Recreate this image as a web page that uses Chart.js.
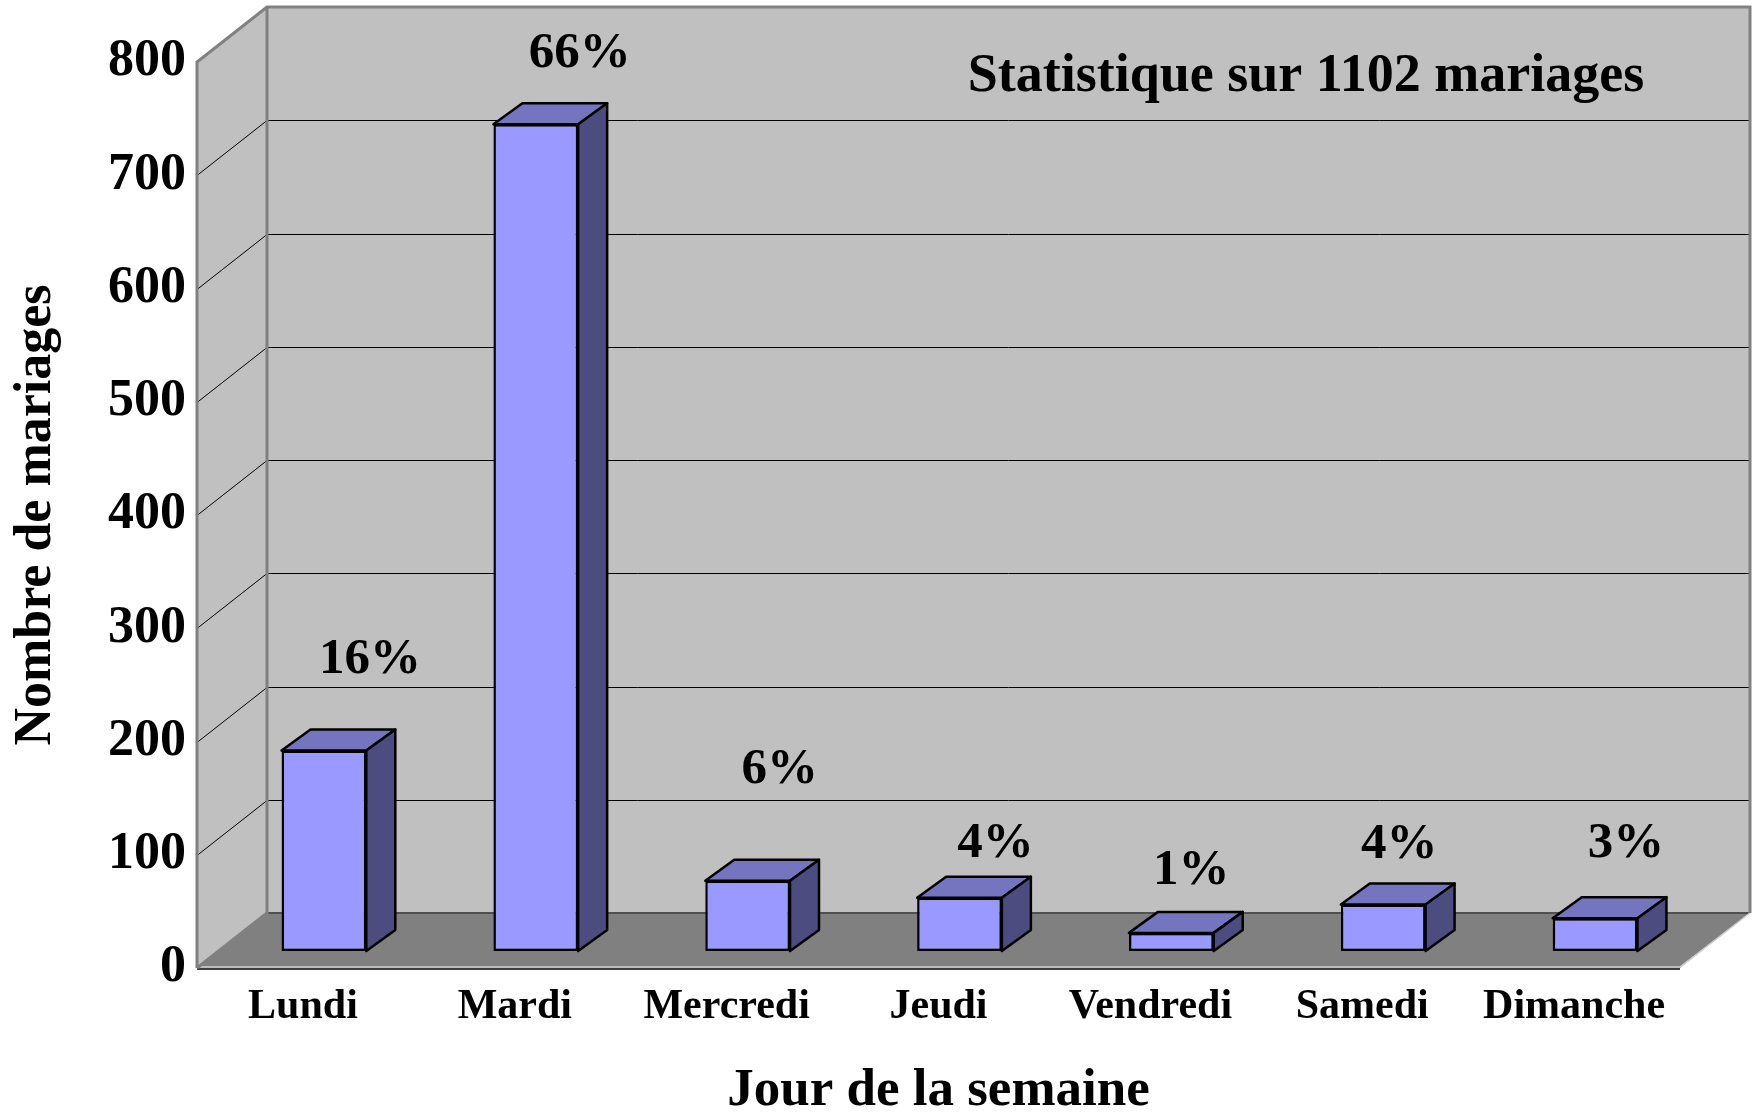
<!DOCTYPE html>
<html lang="fr">
<head>
<meta charset="utf-8">
<title>Jour de la semaine - mariages</title>
<script src="https://cdn.jsdelivr.net/npm/chart.js@4.4.1/dist/chart.umd.min.js"></script>
<style>
  html, body { margin: 0; padding: 0; background: #fff; }
  #graphe { display: block; }
</style>
</head>
<body>
<canvas id="graphe" width="1756" height="1112"></canvas>
<script>
// ------------------------------------------------------
// Données
// ------------------------------------------------------
const jours = ["Lundi", "Mardi", "Mercredi", "Jeudi", "Vendredi", "Samedi", "Dimanche"];
const mariages = [177, 730, 62, 47, 16, 41, 29];
const pourcentages = ["16%", "66%", "6%", "4%", "1%", "4%", "3%"];
const graduations = [0, 100, 200, 300, 400, 500, 600, 700, 800];
const titreGraphe = "Statistique sur 1102 mariages";

const POLICE = "'Liberation Serif', 'Times New Roman', serif";

/* =======================================================
   Plugin : murs, sol et faces 3D des barres
======================================================= */
const effet3D = {
  id: "effet3D",
  beforeDatasetsDraw(chart, args, opts) {
    const { ctx, chartArea: a, scales } = chart;
    const y = scales.y;
    const { dx, dy } = opts.profondeur;
    const y0 = y.getPixelForValue(0);
    const yMax = y.getPixelForValue(graduations[graduations.length - 1]);

    ctx.save();
    ctx.lineJoin = "miter";

    // mur du fond
    ctx.fillStyle = opts.couleurMur;
    ctx.beginPath();
    ctx.rect(a.left + dx, yMax + dy, a.right - a.left, y0 - yMax);
    ctx.fill();

    // mur de gauche
    ctx.beginPath();
    ctx.moveTo(a.left, y0);
    ctx.lineTo(a.left, yMax);
    ctx.lineTo(a.left + dx, yMax + dy);
    ctx.lineTo(a.left + dx, y0 + dy);
    ctx.closePath();
    ctx.fill();

    // sol
    ctx.fillStyle = opts.couleurSol;
    ctx.beginPath();
    ctx.moveTo(a.left, y0);
    ctx.lineTo(a.left + dx, y0 + dy);
    ctx.lineTo(a.right + dx, y0 + dy);
    ctx.lineTo(a.right, y0);
    ctx.closePath();
    ctx.fill();

    // quadrillage (mur du fond + mur de gauche)
    ctx.strokeStyle = "#000";
    ctx.lineWidth = 1;
    graduations.slice(1, -1).forEach((v) => {
      const py = Math.round(y.getPixelForValue(v)) + 0.5;
      ctx.beginPath();
      ctx.moveTo(a.left, py);
      ctx.lineTo(a.left + dx, py + dy);
      ctx.lineTo(a.right + dx, py + dy);
      ctx.stroke();
    });

    // jonction mur / sol
    ctx.strokeStyle = "#505050";
    ctx.lineWidth = 2;
    ctx.beginPath();
    ctx.moveTo(a.left + dx, y0 + dy);
    ctx.lineTo(a.right + dx, y0 + dy);
    ctx.stroke();

    // bords du sol
    ctx.strokeStyle = "#d0d0d0";
    ctx.lineWidth = 1.5;
    ctx.beginPath();
    ctx.moveTo(a.left, y0 - 1);
    ctx.lineTo(a.right, y0 - 1);
    ctx.lineTo(a.right + dx, y0 + dy);
    ctx.stroke();
    ctx.strokeStyle = "#404040";
    ctx.lineWidth = 2;
    ctx.beginPath();
    ctx.moveTo(a.left, y0 + 1);
    ctx.lineTo(a.right, y0 + 1);
    ctx.stroke();

    // contours gris des murs
    ctx.strokeStyle = opts.couleurCadre;
    ctx.lineWidth = 3;
    ctx.beginPath();
    ctx.moveTo(a.left, y0);
    ctx.lineTo(a.left, yMax);
    ctx.lineTo(a.left + dx, yMax + dy);
    ctx.lineTo(a.right + dx, yMax + dy);
    ctx.lineTo(a.right + dx, y0 + dy);
    ctx.moveTo(a.left + dx, yMax + dy);
    ctx.lineTo(a.left + dx, y0 + dy);
    ctx.lineTo(a.left, y0);
    ctx.stroke();
    ctx.restore();

    // les barres sont posées au milieu de la profondeur
    ctx.save();
    ctx.translate(opts.avant.dx, opts.avant.dy);
  },

  afterDatasetsDraw(chart, args, opts) {
    const { ctx } = chart;
    const { dx, dy } = opts.cube;
    const barres = chart.getDatasetMeta(0).data;

    ctx.lineWidth = 2.5;
    ctx.strokeStyle = "#000";
    ctx.lineJoin = "round";
    barres.forEach((b) => {
      const { x, y, base, width } = b.getProps(["x", "y", "base", "width"], true);
      const g = x - width / 2;
      const d = x + width / 2;

      // face du dessus
      ctx.fillStyle = opts.couleurDessus;
      ctx.beginPath();
      ctx.moveTo(g, y);
      ctx.lineTo(g + dx, y + dy);
      ctx.lineTo(d + dx, y + dy);
      ctx.lineTo(d, y);
      ctx.closePath();
      ctx.fill();
      ctx.stroke();

      // face de côté
      ctx.fillStyle = opts.couleurCote;
      ctx.beginPath();
      ctx.moveTo(d, y);
      ctx.lineTo(d + dx, y + dy);
      ctx.lineTo(d + dx, base + dy);
      ctx.lineTo(d, base);
      ctx.closePath();
      ctx.fill();
      ctx.stroke();
    });
    ctx.restore();

    // étiquettes de pourcentage
    ctx.save();
    ctx.fillStyle = "#000";
    ctx.font = `bold ${opts.taillePct}px ${POLICE}`;
    ctx.textAlign = "center";
    ctx.textBaseline = "middle";
    barres.forEach((b, i) => {
      const { x, y } = b.getProps(["x", "y"], true);
      const [ox, oy] = opts.decalages[i];
      ctx.fillText(pourcentages[i], x + ox, y + oy);
    });

    // titre sur le mur du fond
    ctx.font = `bold ${opts.tailleTitre}px ${POLICE}`;
    ctx.fillText(titreGraphe, opts.posTitre.x, opts.posTitre.y);
    ctx.restore();
  },
};

/* =======================================================
   Graphique
======================================================= */
new Chart(document.getElementById("graphe"), {
  type: "bar",
  data: {
    labels: jours,
    datasets: [
      {
        label: "Nombre de mariages",
        data: mariages,
        backgroundColor: "#9999FF",
        borderColor: "#000",
        borderWidth: 2.5,
        borderSkipped: false,
        barPercentage: 1,
        categoryPercentage: 0.4,
        clip: false,
      },
    ],
  },
  options: {
    responsive: false,
    animation: false,
    devicePixelRatio: 1,
    layout: { padding: { top: 62, right: 76, left: 0, bottom: 0 } },
    plugins: {
      legend: { display: false },
      tooltip: { enabled: false },
      effet3D: {
        profondeur: { dx: 70, dy: -55 },
        avant: { dx: 21, dy: -17 },
        cube: { dx: 29, dy: -21 },
        couleurMur: "#C0C0C0",
        couleurSol: "#808080",
        couleurCadre: "#808080",
        couleurDessus: "#7575BF",
        couleurCote: "#4C4C80",
        taillePct: 51,
        tailleTitre: 54,
        posTitre: { x: 1306, y: 77 },
        decalages: [
          [67, -108], [65, -87], [53, -128], [57, -71],
          [41, -79], [37, -77], [52, -91],
        ],
      },
    },
    scales: {
      x: {
        grid: { display: false },
        border: { display: false },
        ticks: {
          color: "#000",
          font: { family: POLICE, size: 42, weight: "bold" },
          padding: 6,
          maxRotation: 0,
          autoSkip: false,
        },
        title: {
          display: true,
          text: "Jour de la semaine",
          color: "#000",
          font: { family: POLICE, size: 53, weight: "bold", lineHeight: 0.78 },
          padding: { top: 0, bottom: 0 },
        },
        afterFit(scale) {
          scale.height = 144;
        },
      },
      y: {
        min: 0,
        max: 800,
        grid: { display: false },
        border: { display: false },
        ticks: {
          stepSize: 100,
          color: "#000",
          font: { family: POLICE, size: 52, weight: "bold" },
          padding: 3,
        },
        title: {
          display: true,
          text: "Nombre de mariages",
          color: "#000",
          font: { family: POLICE, size: 52, weight: "bold", lineHeight: 1.2 },
          padding: { top: 5, bottom: 0 },
        },
        afterFit(scale) {
          scale.width = 197;
        },
      },
    },
  },
  plugins: [effet3D],
});
</script>
</body>
</html>
